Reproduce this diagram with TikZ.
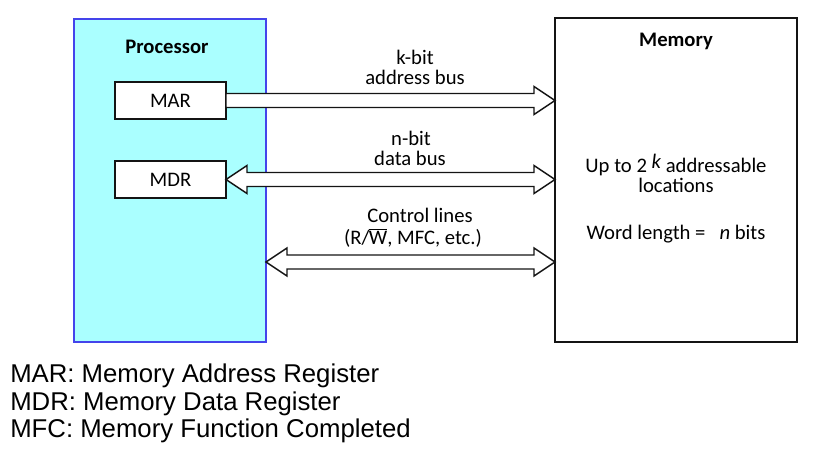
\documentclass[tikz,border=0pt]{standalone}
\usepackage{fontspec}
\setmainfont{Carlito}
\newfontfamily\legendfont{Liberation Sans}
\usepackage{tikz}
\usetikzlibrary{calc}
\definecolor{procfill}{RGB}{170,255,255}
\definecolor{procline}{RGB}{68,68,235}
\definecolor{figline}{RGB}{20,20,20}
\tikzset{
  procbox/.style={draw=procline, fill=procfill, line width=1.2pt, inner sep=0pt, outer sep=0pt,
                  minimum width=144pt, minimum height=242.25pt},
  membox/.style ={draw=figline, fill=white, line width=1.1pt, inner sep=0pt, outer sep=0pt,
                  minimum width=181.5pt, minimum height=243pt},
  regbox/.style ={draw=figline, fill=white, line width=1.1pt, inner sep=0pt, outer sep=0pt,
                  minimum width=83.25pt, minimum height=27.75pt, font=\fontsize{15.5}{17}\selectfont},
  lab/.style    ={font=\fontsize{15.5}{17}\selectfont, inner sep=1pt},
  labb/.style   ={font=\fontsize{15.5}{17}\selectfont\bfseries, inner sep=1pt},
  legend/.style ={font=\fontsize{19.3}{21}\selectfont\legendfont, inner sep=0pt, anchor=west},
  bus/.style    ={draw=figline, fill=white, line width=1.1pt, line join=miter},
}
% hollow bus arrows, head at #2 (one) or at both ends (two)
\newcommand{\busone}[2]{%
  \draw[bus] let \p1=(#1), \p2=(#2) in
    (\x1,\y1+5.25pt) -- (\x2-15.75pt,\y1+5.25pt) -- (\x2-15.75pt,\y1+10.5pt) -- (\x2,\y1)
    -- (\x2-15.75pt,\y1-10.5pt) -- (\x2-15.75pt,\y1-5.25pt) -- (\x1,\y1-5.25pt) -- cycle;}
\newcommand{\bustwo}[2]{%
  \draw[bus] let \p1=(#1), \p2=(#2) in
    (\x1,\y1) -- (\x1+15.75pt,\y1+10.5pt) -- (\x1+15.75pt,\y1+5.25pt)
    -- (\x2-15.75pt,\y1+5.25pt) -- (\x2-15.75pt,\y1+10.5pt) -- (\x2,\y1)
    -- (\x2-15.75pt,\y1-10.5pt) -- (\x2-15.75pt,\y1-5.25pt)
    -- (\x1+15.75pt,\y1-5.25pt) -- (\x1+15.75pt,\y1-10.5pt) -- cycle;}

\begin{document}
\begin{tikzpicture}[x=0.75pt,y=-0.75pt]
  \useasboundingbox (0,0) rectangle (827,455);
  % boxes
  \node[procbox] (proc) at (170,180.5) {};
  \node[membox]  (mem)  at (676,180) {};
  \node[regbox]  (mar)  at (170.5,100.5) {MAR};
  \node[regbox]  (mdr)  at (170.5,179.5) {MDR};
  \node[labb] (proclab) at (167,47) {Processor};
  \node[labb] (memlab)  at (676,41) {Memory};
  % buses
  \coordinate (ctll) at (proc.east |- 0,262);
  \coordinate (ctlr) at (mem.west |- 0,262);
  \busone{mar.east}{mar.east -| mem.west}
  \bustwo{mdr.east}{mdr.east -| mem.west}
  \bustwo{ctll}{ctlr}
  \node[lab] (abus1) at (415,57) {k-bit};
  \node[lab] (abus2) at (415,77) {address bus};
  \node[lab] (dbus1) at (411,138) {n-bit};
  \node[lab] (dbus2) at (410,158) {data bus};
  \node[lab] (cbus1) at (420,215) {Control lines};
  \node[lab] (cbus2) at (413,238) {(R/\kern-0.5pt$\overline{\mbox{W}}$, MFC, etc.)};
  % memory text
  \node[lab] (mtxt1) at (676,165) {Up to 2 \raisebox{0.45ex}{\itshape k} addressable};
  \node[lab] (mtxt2) at (676,185) {locations};
  \node[lab] (mtxt3) at (676,234) {Word length = \ \ \textit{n} bits};
  % legend
  \node[legend] (leg1) at (10,376) {MAR: Memory Address Register};
  \node[legend] (leg2) at (10,404) {MDR: Memory Data Register};
  \node[legend] (leg3) at (10,431) {MFC: Memory Function Completed};
\end{tikzpicture}
\end{document}
